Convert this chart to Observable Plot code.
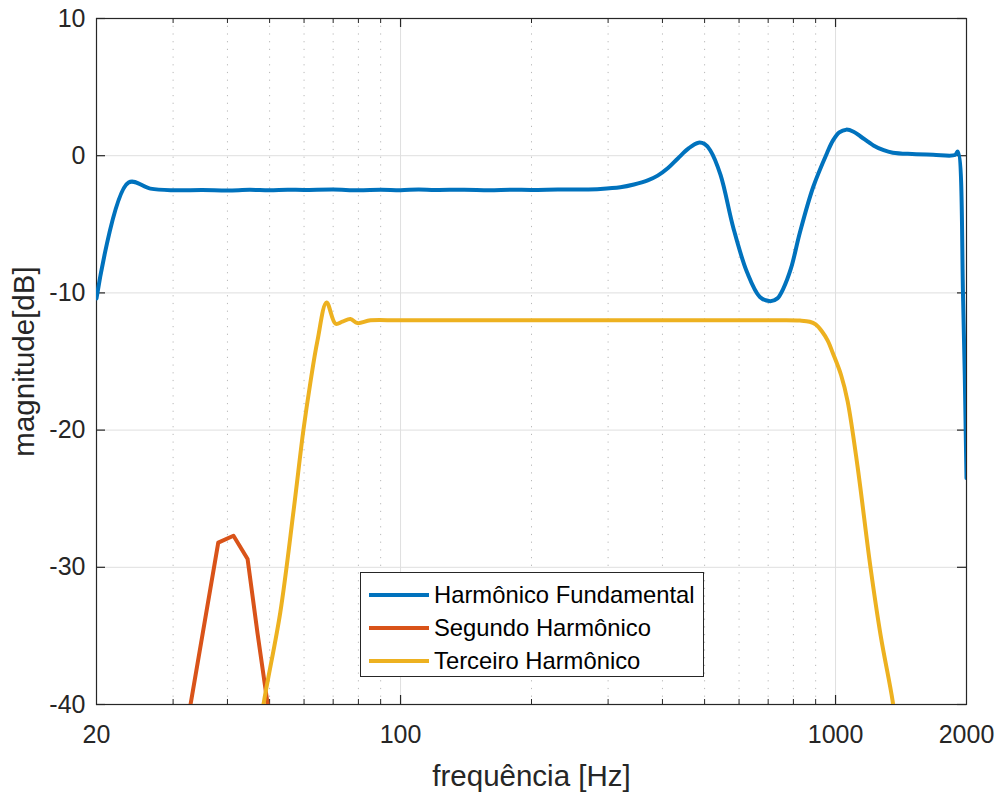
<!DOCTYPE html>
<html>
<head>
<meta charset="utf-8">
<script src="https://cdn.jsdelivr.net/npm/d3@7"></script>
<script src="https://cdn.jsdelivr.net/npm/@observablehq/plot@0.6"></script>
<style>
  html, body { margin: 0; padding: 0; background: #fff; }
  #wrap { position: relative; width: 999px; height: 794px; font-family: "Liberation Sans", Arial, Helvetica, sans-serif; }
  #legend { position: absolute; left: 360px; top: 572px; width: 342px; height: 103px; border: 1px solid #262626; background: #fff; }
  .item { position: absolute; left: 0; height: 30px; }
  .swatch { position: absolute; left: 8px; width: 60px; height: 4px; }
  .lab { position: absolute; left: 73px; white-space: nowrap; font-size: 23.8px; color: #000; line-height: 30px; }
</style>
</head>
<body>
<div id="wrap"></div>
<script>
// ---- data ----
const seriesNames = ["Harmônico Fundamental", "Segundo Harmônico", "Terceiro Harmônico"];
const seriesColors = ["#0072BD", "#D95319", "#EDB120"];

const fundFreq = [20, 23.7, 26.6, 30, 35, 40, 45, 50, 55, 60, 70, 80, 90, 100, 110, 120, 140, 160, 180, 200, 230, 260, 288, 320, 344, 370, 390, 412, 434, 460, 484, 500, 515, 544, 582, 626, 670, 708, 735, 758, 790, 828, 888, 956, 986, 1020, 1058, 1100, 1142, 1222, 1290, 1354, 1500, 1676, 1882, 1910, 1965, 2000];
const fundDb   = [-10.4, -1.95, -2.4, -2.52, -2.5, -2.53, -2.49, -2.52, -2.48, -2.5, -2.47, -2.52, -2.48, -2.51, -2.47, -2.5, -2.48, -2.51, -2.48, -2.5, -2.47, -2.46, -2.42, -2.3, -2.1, -1.8, -1.45, -0.9, -0.2, 0.55, 0.95, 0.85, 0.4, -1.4, -5.25, -8.5, -10.3, -10.6, -10.4, -9.7, -8.2, -5.6, -2.3, 0.2, 1.1, 1.7, 1.9, 1.75, 1.4, 0.75, 0.4, 0.22, 0.12, 0.07, 0.05, 0.3, -10.6, -23.5];

const segFreq = [30.9, 32.9, 38.1, 41.3, 44.5, 46.9, 49.5, 52.2];
const segDb   = [-45, -40, -28.2, -27.7, -29.4, -34.8, -40, -45];

const tercFreq = [45.4, 48.4, 52.9, 56.8, 59.8, 62.0, 64.4, 67.6, 70.9, 73.5, 76.7, 79.6, 85.3, 100, 200, 400, 600, 746, 828, 872, 900, 930, 960, 986, 1030, 1066, 1124, 1203, 1270, 1352, 1380];
const tercDb   = [-46, -40, -33.3, -25.8, -20, -16.6, -13.5, -10.7, -12.25, -12.1, -11.9, -12.2, -12.0, -12.0, -12.0, -12.0, -12.0, -12.0, -12.02, -12.1, -12.3, -12.8, -13.5, -14.4, -16.0, -17.9, -22.7, -30, -35, -39.7, -42];

const xTickLabels = [20, 100, 1000, 2000];
const xMajor = [100, 1000];
const xMinor = [30, 40, 50, 60, 70, 80, 90, 200, 300, 400, 500, 600, 700, 800, 900];
const yTicks = [-40, -30, -20, -10, 0, 10];

// ---- build tables ----
const fund = fundFreq.map((f, i) => ({f, db: fundDb[i]}));
const seg = segFreq.map((f, i) => ({f, db: segDb[i]}));
const terc = tercFreq.map((f, i) => ({f, db: tercDb[i]}));

const W = 999, H = 794, mL = 96, mR = 33, mT = 18, mB = 90;
const fw = W - mL - mR, fh = H - mT - mB;
const axisColor = "#262626";

const chart = Plot.plot({
  width: W, height: H,
  marginLeft: mL, marginRight: mR, marginTop: mT, marginBottom: mB,
  style: { fontFamily: '"Liberation Sans", Arial, Helvetica, sans-serif', fontSize: "25px", color: axisColor, background: "#fff" },
  x: { type: "log", domain: [20, 2000] },
  y: { domain: [-40, 10] },
  marks: [
    // grid
    Plot.ruleX(xMinor, { stroke: "#b8b8b8", strokeWidth: 1, strokeDasharray: "1.2,6.5" }),
    Plot.ruleX(xMajor, { stroke: "#dfdfdf", strokeWidth: 1 }),
    Plot.ruleY(yTicks.slice(1, -1), { stroke: "#dfdfdf", strokeWidth: 1 }),
    // box
    Plot.frame({ stroke: axisColor, strokeWidth: 1.2 }),
    // ticks (inward, all four sides)
    Plot.ruleX(xMajor, { stroke: axisColor, strokeWidth: 1.2, insetTop: fh - 9 }),
    Plot.ruleX(xMajor, { stroke: axisColor, strokeWidth: 1.2, insetBottom: fh - 9 }),
    Plot.ruleX(xMinor, { stroke: axisColor, strokeWidth: 1, insetTop: fh - 5 }),
    Plot.ruleX(xMinor, { stroke: axisColor, strokeWidth: 1, insetBottom: fh - 5 }),
    Plot.ruleY(yTicks, { stroke: axisColor, strokeWidth: 1.2, insetRight: fw - 9 }),
    Plot.ruleY(yTicks, { stroke: axisColor, strokeWidth: 1.2, insetLeft: fw - 9 }),
    // tick labels
    Plot.axisX(xTickLabels, { tickSize: 0, tickPadding: 21, tickFormat: d => String(d), label: null, fontSize: 25, fill: axisColor }),
    Plot.axisY(yTicks, { tickSize: 0, tickPadding: 11, tickFormat: d => String(d), label: null, fontSize: 25, fill: axisColor }),
    // axis titles
    Plot.text(["frequência [Hz]"], { text: d => d, frameAnchor: "bottom", dy: 81, lineAnchor: "bottom", textAnchor: "middle", fontSize: 29.5, fill: axisColor }),
    Plot.text(["magnitude[dB]"], { text: d => d, frameAnchor: "left", dx: -63, rotate: -90, lineAnchor: "bottom", textAnchor: "middle", fontSize: 29.5, fill: axisColor }),
    // data
    Plot.line(seg, { x: "f", y: "db", stroke: seriesColors[1], strokeWidth: 4, strokeLinejoin: "round", curve: "linear", clip: true }),
    Plot.line(terc, { x: "f", y: "db", stroke: seriesColors[2], strokeWidth: 4, strokeLinejoin: "round", curve: "catmull-rom", clip: true }),
    Plot.line(fund, { x: "f", y: "db", stroke: seriesColors[0], strokeWidth: 4, strokeLinejoin: "round", curve: "catmull-rom", clip: true })
  ]
});

const wrap = document.getElementById("wrap");
wrap.appendChild(chart);

// legend
const legend = document.createElement("div");
legend.id = "legend";
seriesNames.forEach((name, i) => {
  const item = document.createElement("div");
  item.className = "item";
  item.style.top = (7 + i * 33) + "px";
  item.style.width = "100%";
  const sw = document.createElement("div");
  sw.className = "swatch";
  sw.style.background = seriesColors[i];
  sw.style.top = "13px";
  const lab = document.createElement("div");
  lab.className = "lab";
  lab.style.top = "0px";
  lab.textContent = name;
  item.appendChild(sw);
  item.appendChild(lab);
  legend.appendChild(item);
});
wrap.appendChild(legend);
</script>
</body>
</html>
